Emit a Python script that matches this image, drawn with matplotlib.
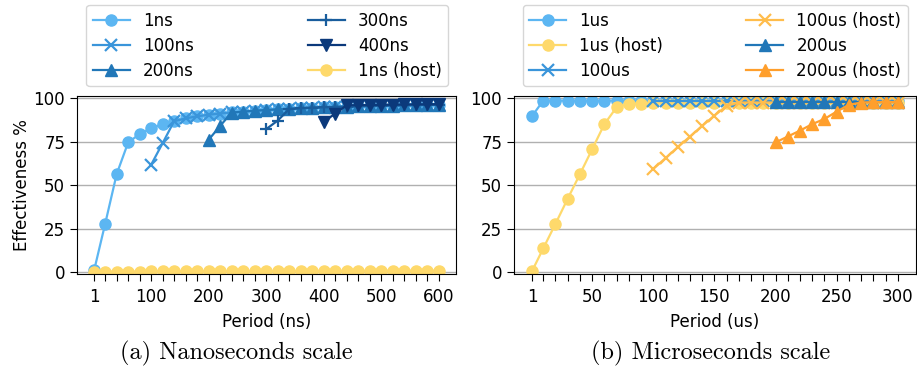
import matplotlib
matplotlib.use("Agg")
import matplotlib.pyplot as plt

# nanoseconds scale
ns_x = [1] + list(range(20, 601, 20))
ns_steady = [86.8, 88.4, 89.6, 90.5, 91.2, 91.8, 92.3, 92.8, 93.2, 93.6, 93.9, 94.2,
             94.5, 94.7, 94.9, 95.1, 95.3, 95.5, 95.6, 95.8, 95.9, 96.0, 96.1, 96.2]
ns_1 = [1.5, 27.9, 56.4, 74.6, 79.4, 82.6, 85.3] + ns_steady
ns_100 = [61.8, 74.2] + ns_steady
ns_200 = [76.1, 84.1, 91.7, 92.3, 92.8, 93.2, 93.6, 93.9, 94.2, 94.5, 94.7, 94.9, 95.1,
          95.3, 95.5, 95.6, 95.8, 95.9, 96.0, 96.1, 96.2]
ns_300 = [82.2, 87.1, 93.7, 94.3, 94.6, 94.8, 95.0, 95.2, 95.4, 95.6, 95.7, 95.9, 96.0,
          96.1, 96.2, 96.3]
ns_400 = [86.6, 91.0, 95.9, 96.0, 96.1, 96.2, 96.3, 96.4, 96.5, 96.5, 96.6]
ns_1_host = [0.5, 0.5, 0.5, 0.5, 0.5, 0.6, 0.6, 0.6, 0.6, 0.6, 0.7, 0.7, 0.7, 0.7, 0.7, 0.8,
             0.8, 0.8, 0.8, 0.8, 0.9, 0.9, 0.9, 0.9, 0.9, 1.0, 1.0, 1.0, 1.0, 1.0, 1.0]

# microseconds scale
us_x = [1] + list(range(10, 301, 10))
us_1 = [89.9] + [98.6] * 30
us_1_host = [1.0, 13.8, 27.9, 42.3, 56.4, 70.7, 85.1, 94.8, 96.7, 96.9] + [97.0] * 21
us_100 = [98.4] * 21
us_100_host = [59.4, 65.6, 71.9, 78.0, 84.1, 90.0, 95.6, 97.5, 97.5, 97.5] + [97.5] * 11
us_200 = [98.0] * 11
us_200_host = [74.6, 78.0, 81.4, 85.1, 88.1, 92.3, 96.2, 97.5, 97.8, 97.8, 97.8]

c1 = '#5cb6f2'
c100 = '#3a95da'
c200 = '#2177b8'
c300 = '#195d9d'
c400 = '#0b397b'
yel = '#fed96b'
org1 = '#ffbd4c'
org2 = '#ff9f2c'

plt.rcParams['font.size'] = 12

fig = plt.figure(figsize=(9.17, 3.69), dpi=100)
ax1 = fig.add_axes([0.084, 0.258, 0.413, 0.483])
ax2 = fig.add_axes([0.5605, 0.258, 0.4385, 0.483])

kw = dict(lw=1.6, ms=8)
ax1.plot(ns_x, ns_1, marker='o', color=c1, label='1ns', **kw)
ax1.plot(ns_x[5:], ns_100, marker='x', mew=1.6, color=c100, label='100ns', **kw)
ax1.plot(ns_x[10:], ns_200, marker='^', color=c200, label='200ns', **kw)
ax1.plot(ns_x[15:], ns_300, marker='+', mew=1.6, color=c300, label='300ns', **kw)
ax1.plot(ns_x[20:], ns_400, marker='v', color=c400, label='400ns', **kw)
ax1.plot(ns_x, ns_1_host, marker='o', color=yel, label='1ns (host)', **kw)

ax2.plot(us_x, us_1, marker='o', color=c1, label='1us', **kw)
ax2.plot(us_x, us_1_host, marker='o', color=yel, label='1us (host)', **kw)
ax2.plot(us_x[10:], us_100, marker='x', mew=1.6, color=c100, label='100us', **kw)
ax2.plot(us_x[10:], us_100_host, marker='x', mew=1.6, color=org1, label='100us (host)', **kw)
ax2.plot(us_x[20:], us_200, marker='^', color=c200, label='200us', **kw)
ax2.plot(us_x[20:], us_200_host, marker='^', color=org2, label='200us (host)', **kw)

for ax, xs, step in [(ax1, ns_x, 100), (ax2, us_x, 50)]:
    ax.set_ylim(-0.8, 101.5)
    ax.set_yticks([0, 25, 50, 75, 100])
    ax.set_xticks(xs)
    ax.set_xticklabels([str(v) if (v == 1 or v % step == 0) else '' for v in xs])
    ax.yaxis.grid(True, color='#b0b0b0', lw=1)
    ax.set_axisbelow(True)
    ax.tick_params(axis='x', length=5, pad=5)
    ax.tick_params(axis='y', length=5)

ax1.set_ylabel('Effectiveness %', labelpad=2)
ax1.set_xlabel('Period (ns)', labelpad=5)
ax2.set_xlabel('Period (us)', labelpad=5)

ax1.legend(ncol=2, loc='upper left', mode='expand', bbox_to_anchor=(0.094, 0.5, 0.395, 0.486),
           bbox_transform=fig.transFigure, handlelength=2.2, labelspacing=0.42,
           borderaxespad=0)
ax2.legend(ncol=2, loc='upper left', mode='expand', bbox_to_anchor=(0.570, 0.5, 0.420, 0.486),
           bbox_transform=fig.transFigure, handlelength=2.2, labelspacing=0.42,
           borderaxespad=0)

fig.text(0.258, 0.025, '(a) Nanoseconds scale', ha='center', family='cmr10', fontsize=17.5)
fig.text(0.775, 0.025, '(b) Microseconds scale', ha='center', family='cmr10', fontsize=17.5)

fig.savefig('out.png', dpi=100)
